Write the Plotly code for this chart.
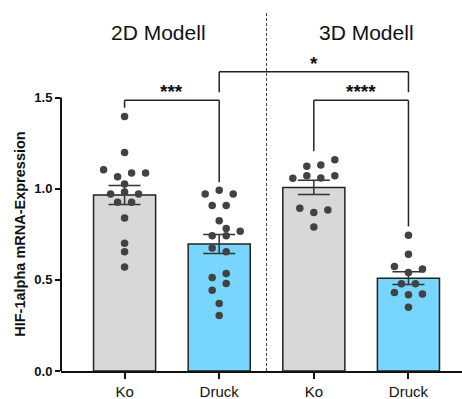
import plotly.graph_objects as go

# ---------------- data ----------------
categories = ["Ko", "Druck", "Ko", "Druck"]
group_titles = ["2D Modell", "3D Modell"]
y_title = "HIF-1alpha mRNA-Expression"
y_ticks = [0.0, 0.5, 1.0, 1.5]
y_ticklabels = ["0.0", "0.5", "1.0", "1.5"]

means = [0.965, 0.696, 1.007, 0.509]
sem = [0.052, 0.052, 0.039, 0.035]

ko_2d = [1.396, 1.198, 1.104, 1.066, 1.086, 1.086, 1.026, 0.971, 0.982, 0.971,
         0.925, 0.925, 0.839, 0.701, 0.654, 0.570]
druck_2d = [0.971, 0.991, 0.971, 0.908, 0.908, 0.824, 0.782, 0.742, 0.742, 0.766,
            0.674, 0.654, 0.513, 0.535, 0.480, 0.443, 0.370, 0.304]
ko_3d = [1.123, 1.130, 1.159, 1.071, 1.059, 1.071, 1.057, 0.892, 0.870, 0.883, 0.790]
druck_3d = [0.745, 0.641, 0.573, 0.560, 0.540, 0.478, 0.478, 0.430, 0.418, 0.423, 0.350]

# scatter column index of each point (beeswarm layout, in steps)
ko_2d_col = [0, 0, -3, -1, 1, 3, 0, -2, 0, 2, -1, 1, 0, 0, 0, 0]
druck_2d_col = [-2, 0, 2, -1, 1, 0, 1, -1, 1, 3, -1, 1, -1, 1, 1, -1, 0, 0]
ko_3d_col = [-1, 1, 3, -1, 1, 3, -3, -2, 0, 2, 0]
druck_3d_col = [0, 0, -2, 2, 0, -1, 1, -2, 0, 2, 0]

# significance brackets: (x_left, x_right, y_top, y_left_end, y_right_end, label)
brackets = [
    (0, 1, 1.485, 1.444, 1.035, "***"),
    (2, 3, 1.485, 1.205, 0.793, "****"),
    (1, 3, 1.641, 1.529, 1.529, "*"),
]

# ---------------- style ----------------
FONT = "Liberation Sans, Arial, Helvetica, sans-serif"
bar_colors = ["#d8d8d8", "#78d5fd", "#d8d8d8", "#78d5fd"]
dot_color = "#424242"
line_color = "#222222"
step = 0.074

fig = go.Figure()

fig.add_trace(go.Bar(
    x=list(range(len(categories))), y=means,
    width=0.656,
    marker=dict(color=bar_colors, line=dict(color=line_color, width=1.5)),
    error_y=dict(type="data", array=sem, visible=True, color="#333333",
                 thickness=1.5, width=16),
    hoverinfo="skip",
))

groups = [(ko_2d, ko_2d_col), (druck_2d, druck_2d_col),
          (ko_3d, ko_3d_col), (druck_3d, druck_3d_col)]
for i, (vals, cols) in enumerate(groups):
    fig.add_trace(go.Scatter(
        x=[i + c * step for c in cols], y=vals, mode="markers",
        marker=dict(color=dot_color, size=7.5, line=dict(width=0)),
        hoverinfo="skip", cliponaxis=False,
    ))

shapes = []
annotations = []
for (xl, xr, yt, yl, yr, lab) in brackets:
    shapes.append(dict(type="line", xref="x", yref="y", x0=xl, x1=xr, y0=yt, y1=yt,
                       line=dict(color=line_color, width=1.5)))
    shapes.append(dict(type="line", xref="x", yref="y", x0=xl, x1=xl, y0=yl, y1=yt,
                       line=dict(color=line_color, width=1.5)))
    shapes.append(dict(type="line", xref="x", yref="y", x0=xr, x1=xr, y0=yr, y1=yt,
                       line=dict(color=line_color, width=1.5)))
    annotations.append(dict(x=(xl + xr) / 2, y=yt, xref="x", yref="y", text=lab,
                            showarrow=False, yanchor="bottom", yshift=-4,
                            font=dict(family=FONT, size=19, color="#111", weight="bold")))

# y axis line from 0 to 1.5 only
shapes.append(dict(type="line", xref="paper", yref="y", x0=0, x1=0, y0=-0.006, y1=y_ticks[-1],
                   line=dict(color="#111", width=2)))
# dashed separator between the two models
shapes.append(dict(type="line", xref="x", yref="paper", x0=1.5, x1=1.5, y0=0, y1=0.994,
                   line=dict(color="#444", width=1, dash="3px,2px")))

title_x = [0.36, 2.56]
for tx, t in zip(title_x, group_titles):
    annotations.append(dict(x=tx, y=1.854, xref="x", yref="y", text=t, showarrow=False,
                            xanchor="center", yanchor="middle",
                            font=dict(family=FONT, size=21, color="#111")))

annotations.append(dict(x=-0.101, y=0.75, xref="paper", yref="y", text=y_title,
                        textangle=-90, showarrow=False, xanchor="center", yanchor="middle",
                        font=dict(family=FONT, size=14.5, color="#111", weight="bold")))

fig.update_layout(
    width=462, height=399,
    margin=dict(l=61, r=0, t=10, b=28),
    plot_bgcolor="white", paper_bgcolor="white",
    showlegend=False,
    shapes=shapes, annotations=annotations,
    font=dict(family=FONT, color="#111"),
    xaxis=dict(range=[-0.672, 3.566], tickvals=list(range(len(categories))),
               ticktext=categories, showline=True, linecolor="#111", linewidth=2,
               ticks="outside", ticklen=6, tickwidth=2, tickcolor="#111",
               showgrid=False, zeroline=False,
               tickfont=dict(family=FONT, size=15, color="#111")),
    yaxis=dict(range=[0, 1.98], tickvals=y_ticks, ticktext=y_ticklabels,
               showline=False, ticks="outside", ticklen=5, tickwidth=2, tickcolor="#111",
               showgrid=False, zeroline=False,
               tickfont=dict(family=FONT, size=13, color="#111", weight="bold")),
)

fig.write_html("out.html")
